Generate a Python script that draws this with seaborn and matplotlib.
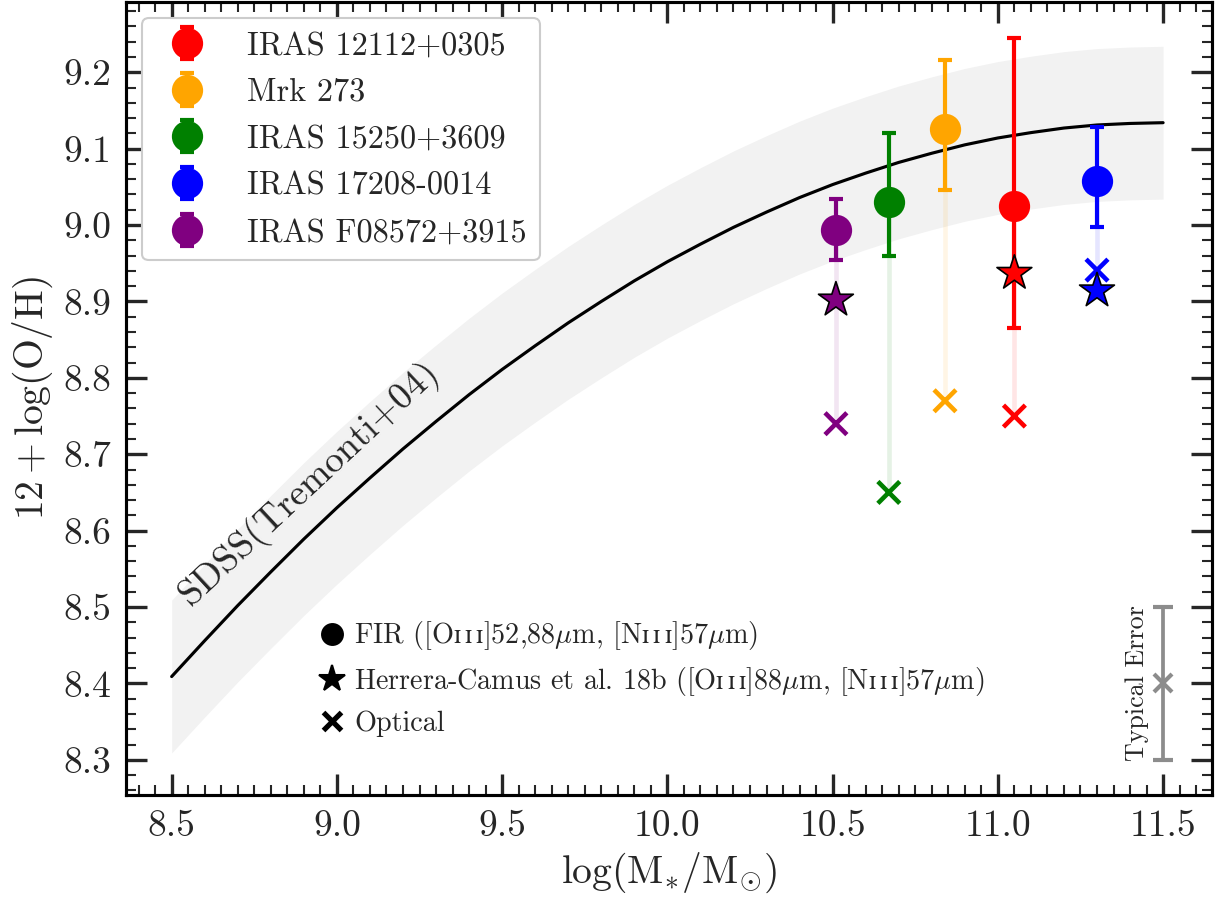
import numpy as np
import seaborn as sns
import matplotlib.pyplot as plt
from matplotlib.lines import Line2D

# galaxies (FIR metallicities with asymmetric errors)
names = ['IRAS 12112+0305', 'Mrk 273', 'IRAS 15250+3609', 'IRAS 17208-0014', 'IRAS F08572+3915']
colors = ['red', 'orange', 'green', 'blue', 'purple']
mass = [11.05, 10.84, 10.67, 11.30, 10.51]
fir = [9.025, 9.126, 9.030, 9.058, 8.994]
fir_lo = [0.16, 0.08, 0.07, 0.06, 0.04]
fir_hi = [0.22, 0.09, 0.09, 0.07, 0.04]
hc18 = [8.937, np.nan, np.nan, 8.914, 8.902]
optical = [8.750, 8.770, 8.650, 8.941, 8.740]

# SDSS mass-metallicity relation (Tremonti+04)
curve_x = [8.5, 8.6, 8.7, 8.8, 8.9, 9.0, 9.1, 9.2, 9.3, 9.4, 9.5, 9.6, 9.7, 9.8, 9.9, 10.0,
           10.1, 10.2, 10.3, 10.4, 10.5, 10.6, 10.7, 10.8, 10.9, 11.0, 11.1, 11.2, 11.3, 11.4, 11.5]
curve_y = [8.409, 8.456, 8.502, 8.546, 8.589, 8.630, 8.669, 8.707, 8.743, 8.778, 8.811,
           8.842, 8.872, 8.900, 8.927, 8.952, 8.975, 8.997, 9.017, 9.036, 9.053, 9.068,
           9.082, 9.094, 9.105, 9.114, 9.121, 9.127, 9.131, 9.133, 9.134]
band_halfwidth = 0.1

typ_x = 11.5
typ_y = 8.4
typ_err = 0.1

sns.set_style('ticks')
plt.rcParams['font.family'] = ['cmr10', 'DejaVu Serif', 'DejaVu Sans']
plt.rcParams['mathtext.fontset'] = 'cm'
plt.rcParams['axes.formatter.use_mathtext'] = True
plt.rcParams['axes.unicode_minus'] = False

fig, ax = plt.subplots(figsize=(1225 / 150, 899 / 150), dpi=150)
fig.subplots_adjust(left=0.1029, right=0.9894, top=0.9978, bottom=0.1157)

# scatter band and curve
cy = np.array(curve_y)
ax.fill_between(curve_x, cy - band_halfwidth, cy + band_halfwidth, color='0.95', lw=0, zorder=0)
sns.lineplot(x=curve_x, y=curve_y, color='k', lw=1.5, ax=ax, zorder=2)

# faint lines linking FIR and optical values
for m, f, o, c in zip(mass, fir, optical, colors):
    ax.plot([m, m], [f, o], color=c, lw=2.2, alpha=0.1, zorder=1)

for m, f, lo, hi, c, n in zip(mass, fir, fir_lo, fir_hi, colors, names):
    ax.errorbar(m, f, yerr=[[lo], [hi]], fmt='o', color=c, ms=14, elinewidth=2,
                capsize=3.5, capthick=2, label=n, zorder=3)

sns.scatterplot(x=mass, y=optical, hue=names, palette=colors, marker='x', s=110,
                linewidth=2.2, legend=False, ax=ax, zorder=4)
sns.scatterplot(x=mass, y=hc18, hue=names, palette=colors, marker='*', s=310,
                edgecolor='k', linewidth=0.8, legend=False, ax=ax, zorder=5)

# typical error
ax.errorbar(typ_x, typ_y, yerr=typ_err, fmt='x', color='0.55', ms=9, mew=2,
            elinewidth=1.8, capsize=5, capthick=1.8, zorder=3)
ax.text(11.42, typ_y, 'Typical Error', rotation=90, ha='center', va='center',
        fontsize=12.5, color='0.15')

ax.text(8.56, 8.50, 'SDSS(Tremonti+04)', rotation=43, rotation_mode='anchor',
        ha='left', va='baseline', fontsize=18)

leg1 = ax.legend(loc='upper left', fontsize=15.5, handletextpad=0.85, labelspacing=0.55,
                 frameon=True, fancybox=True, edgecolor='0.8', framealpha=1)
ax.add_artist(leg1)

handles = [
    Line2D([], [], marker='o', color='k', ls='', ms=10),
    Line2D([], [], marker='*', color='k', ls='', ms=13),
    Line2D([], [], marker='x', color='k', ls='', ms=8.5, mew=2.5),
]
sc = r'$\mathrm{ɪ\,ɪ\,ɪ}$'
labels = [
    'FIR ([O' + sc + ']52,88$\\mu$m, [N' + sc + ']57$\\mu$m)',
    'Herrera-Camus et al. 18b ([O' + sc + ']88$\\mu$m, [N' + sc + ']57$\\mu$m)',
    'Optical',
]
ax.legend(handles, labels, loc='lower left', bbox_to_anchor=(0.153, 0.041), fontsize=13.5,
          frameon=False, handlelength=1.0, handletextpad=0.3, labelspacing=0.45)

ax.set_xlim(8.362, 11.648)
ax.set_ylim(8.254, 9.292)
ax.set_xticks([8.5, 9.0, 9.5, 10.0, 10.5, 11.0, 11.5])
ax.set_yticks([8.3, 8.4, 8.5, 8.6, 8.7, 8.8, 8.9, 9.0, 9.1, 9.2])
ax.set_xticks(np.arange(8.4, 11.65, 0.05), minor=True)
ax.set_yticks(np.arange(8.26, 9.29, 0.02), minor=True)
ax.xaxis.set_major_formatter(plt.FormatStrFormatter('%.1f'))
ax.yaxis.set_major_formatter(plt.FormatStrFormatter('%.1f'))
ax.tick_params(which='both', direction='in', top=True, right=True, labelsize=18, pad=7)
ax.tick_params(which='major', length=10, width=1.6)
ax.tick_params(which='minor', length=5, width=1)
for s in ax.spines.values():
    s.set_linewidth(1.5)
    s.set_color('k')

ax.set_xlabel(r'$\log(\mathrm{M}_{*}/\mathrm{M}_{\odot})$', fontsize=19)
ax.set_ylabel(r'$12+\log(\mathrm{O/H})$', fontsize=19)

fig.savefig('out.png', dpi=150)
